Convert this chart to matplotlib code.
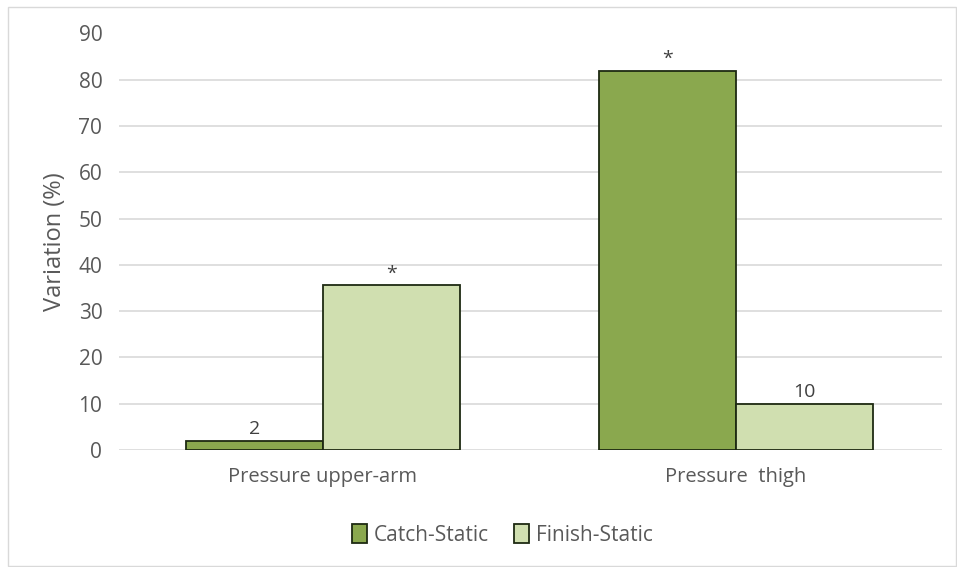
import matplotlib
matplotlib.use("Agg")
import matplotlib.pyplot as plt
from matplotlib.patches import Rectangle
import numpy as np

plt.rcParams['font.family'] = ['Open Sans', 'DejaVu Sans']

categories = ["Pressure upper-arm", "Pressure  thigh"]
series_names = ["Catch-Static", "Finish-Static"]
catch_static = [2, 82]
finish_static = [35.6, 10]
catch_labels = ["2", "*"]
finish_labels = ["*", "10"]
yticks = [0, 10, 20, 30, 40, 50, 60, 70, 80, 90]

catch_color = "#8aa84e"
finish_color = "#d0dfb0"
edge_color = "#1e2a12"
text_color = "#595959"

fig = plt.figure(figsize=(9.57, 5.67), dpi=100)
fig.patches.append(Rectangle((8 / 957, 1 / 567), 948 / 957, 559 / 567,
                             transform=fig.transFigure, fill=False,
                             edgecolor="#d9d9d9", linewidth=1))
ax = fig.add_axes([119 / 957, 1 - 450 / 567, 823 / 957, 416.5 / 567])

x = np.arange(len(categories))
w = 0.332
b1 = ax.bar(x - w / 2, catch_static, w, color=catch_color, edgecolor=edge_color,
            linewidth=1.3, label=series_names[0], zorder=3)
b2 = ax.bar(x + w / 2, finish_static, w, color=finish_color, edgecolor=edge_color,
            linewidth=1.3, label=series_names[1], zorder=3)

for bars, labels in ((b1, catch_labels), (b2, finish_labels)):
    for bar, lab in zip(bars, labels):
        h = bar.get_height()
        ax.annotate(lab, (bar.get_x() + bar.get_width() / 2, h),
                    xytext=(0, 2), textcoords="offset points",
                    ha="center", va="bottom", fontsize=14, color="#404040")

ax.set_xlim(-0.494, 1.499)
ax.set_ylim(0, 90)
ax.set_yticks(yticks)
ax.set_xticks(x)
ax.set_xticklabels(categories)
ax.tick_params(axis="both", length=0, labelsize=15, colors=text_color)
ax.tick_params(axis="y", pad=12)
ax.tick_params(axis="x", pad=12)
for lab in ax.get_xticklabels():
    lab.set_fontsize(14.5)
ax.grid(axis="y", color="#d9d9d9", linewidth=1.2, zorder=0)
for s in ax.spines.values():
    s.set_visible(False)
ax.set_ylabel("Variation (%)", fontsize=17, color=text_color, labelpad=8)

leg = fig.legend(handles=[b1, b2], labels=series_names, loc="center",
                 bbox_to_anchor=(502 / 957, 1 - 535 / 567), ncol=2, frameon=False,
                 fontsize=15, handlelength=0.75, handleheight=1.0,
                 handletextpad=0.3, columnspacing=1.2)
for t in leg.get_texts():
    t.set_color(text_color)

fig.savefig("out.png", dpi=100)
